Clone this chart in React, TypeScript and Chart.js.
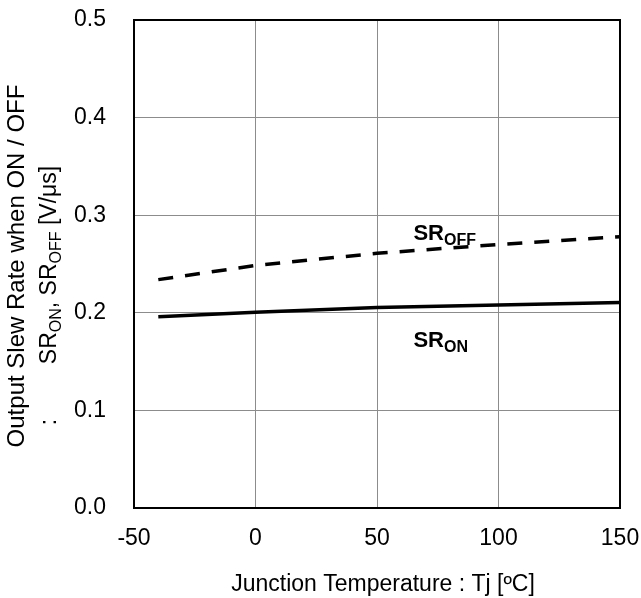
import React, { useEffect, useRef } from "react";
import { Chart, registerables } from "chart.js";

Chart.register(...registerables);

// ---- data ----
const temperatures = [-40, 0, 50, 100, 150];
const srOn = [0.196, 0.2005, 0.2055, 0.208, 0.2105];
const srOff = [0.234, 0.2485, 0.261, 0.27, 0.278];
const xTickValues = [-50, 0, 50, 100, 150];
const yTickValues = [0, 0.1, 0.2, 0.3, 0.4, 0.5];
const seriesLabelMain = ["SR", "SR"];
const seriesLabelSub = ["OFF", "ON"];
const seriesLabelX = [65, 65];
const seriesLabelY = [0.275, 0.165];
const xTitle = "Junction Temperature : Tj [ºC]";
const yTitleLine1 = "Output Slew Rate when ON / OFF";
const yTitleLine2Lead = ":";
const yTitleLine2Text = ["SR", "ON", ", SR", "OFF", " [V/μs]"];
const yTitleLine2Sub = [false, true, false, true, false];

const FONT = "'Liberation Sans', Arial, Helvetica, sans-serif";

type Part = { text: string; sub: boolean };

function drawRich(
  ctx: CanvasRenderingContext2D,
  parts: Part[],
  x: number,
  y: number,
  size: number,
  subSize: number,
  subShift: number,
  weight: string,
  align: "left" | "center"
) {
  const mainFont = `${weight} ${size}px ${FONT}`;
  const subFont = `${weight} ${subSize}px ${FONT}`;
  let total = 0;
  for (const p of parts) {
    ctx.font = p.sub ? subFont : mainFont;
    total += ctx.measureText(p.text).width;
  }
  let cx = align === "center" ? x - total / 2 : x;
  ctx.textAlign = "left";
  ctx.textBaseline = "alphabetic";
  for (const p of parts) {
    ctx.font = p.sub ? subFont : mainFont;
    ctx.fillText(p.text, cx, p.sub ? y + subShift : y);
    cx += ctx.measureText(p.text).width;
  }
}

const decorPlugin = {
  id: "decor",
  afterDraw(chart: any) {
    const { ctx, chartArea: a, scales } = chart;
    ctx.save();
    // plot frame
    ctx.strokeStyle = "#000";
    ctx.lineWidth = 2;
    ctx.strokeRect(a.left, a.top, a.right - a.left, a.bottom - a.top);

    ctx.fillStyle = "#000";
    // series labels
    for (let i = 0; i < seriesLabelMain.length; i++) {
      const px = scales.x.getPixelForValue(seriesLabelX[i]);
      const py = scales.y.getPixelForValue(seriesLabelY[i]);
      drawRich(
        ctx,
        [
          { text: seriesLabelMain[i], sub: false },
          { text: seriesLabelSub[i], sub: true },
        ],
        px,
        py,
        22,
        16,
        5,
        "bold",
        "left"
      );
    }

    // x title
    ctx.font = `23px ${FONT}`;
    ctx.textAlign = "center";
    ctx.textBaseline = "alphabetic";
    ctx.fillText(xTitle, (a.left + a.right) / 2 + 6, a.bottom + 83);

    // y title
    const cy = (a.top + a.bottom) / 2;
    ctx.save();
    ctx.translate(24, cy + 2);
    ctx.rotate(-Math.PI / 2);
    ctx.font = `24px ${FONT}`;
    ctx.textAlign = "center";
    ctx.textBaseline = "alphabetic";
    ctx.fillText(yTitleLine1, 0, 0);
    ctx.restore();

    ctx.save();
    ctx.translate(56, cy);
    ctx.rotate(-Math.PI / 2);
    // leading colon, set apart
    ctx.font = `23px ${FONT}`;
    ctx.textAlign = "center";
    ctx.textBaseline = "alphabetic";
    ctx.fillText(yTitleLine2Lead, -158, 0);
    drawRich(
      ctx,
      yTitleLine2Text.map((t, i) => ({ text: t, sub: yTitleLine2Sub[i] })),
      -1,
      0,
      23,
      16,
      5,
      "normal",
      "center"
    );
    ctx.restore();

    ctx.restore();
  },
};

export default function App() {
  const ref = useRef<HTMLCanvasElement | null>(null);

  useEffect(() => {
    if (!ref.current) return;
    const zeroPad = (s: any) => {
      s.paddingTop = 0;
      s.paddingBottom = 0;
      s.paddingLeft = 0;
      s.paddingRight = 0;
    };
    const chart = new Chart(ref.current, {
      type: "line",
      data: {
        datasets: [
          {
            label: "SR_OFF",
            data: temperatures.map((t, i) => ({ x: t, y: srOff[i] })),
            borderColor: "#000",
            borderWidth: 3.5,
            borderDash: [15, 12],
            pointRadius: 0,
            tension: 0,
            fill: false,
          },
          {
            label: "SR_ON",
            data: temperatures.map((t, i) => ({ x: t, y: srOn[i] })),
            borderColor: "#000",
            borderWidth: 3.5,
            pointRadius: 0,
            tension: 0,
            fill: false,
          },
        ],
      },
      options: {
        animation: false,
        responsive: false,
        maintainAspectRatio: false,
        layout: { padding: { top: 20, right: 21, left: 0, bottom: 0 } },
        plugins: {
          legend: { display: false },
          tooltip: { enabled: false },
          title: { display: false },
        },
        scales: {
          x: {
            type: "linear",
            min: -50,
            max: 150,
            afterBuildTicks: (s: any) => {
              s.ticks = xTickValues.map((v) => ({ value: v }));
            },
            afterFit: (s: any) => {
              s.height = 90;
              zeroPad(s);
            },
            grid: { color: "#8c8c8c", lineWidth: 1, drawTicks: false },
            border: { display: false },
            ticks: {
              padding: 17,
              color: "#000",
              font: { family: FONT, size: 23 },
              maxRotation: 0,
              autoSkip: false,
              callback: (v: any) => String(v),
            },
          },
          y: {
            type: "linear",
            min: 0,
            max: 0.5,
            afterBuildTicks: (s: any) => {
              s.ticks = yTickValues.map((v) => ({ value: v }));
            },
            afterFit: (s: any) => {
              s.width = 134;
              zeroPad(s);
            },
            grid: { color: "#8c8c8c", lineWidth: 1, drawTicks: false },
            border: { display: false },
            ticks: {
              padding: 28,
              color: "#000",
              font: { family: FONT, size: 23 },
              autoSkip: false,
              callback: (v: any) => Number(v).toFixed(1),
            },
          },
        },
      },
      plugins: [decorPlugin],
    });
    return () => chart.destroy();
  }, []);

  return (
    <div style={{ position: "absolute", left: 0, top: 0, width: 641, height: 598, background: "#fff" }}>
      <canvas ref={ref} width={641} height={598} style={{ width: 641, height: 598, display: "block" }} />
    </div>
  );
}
